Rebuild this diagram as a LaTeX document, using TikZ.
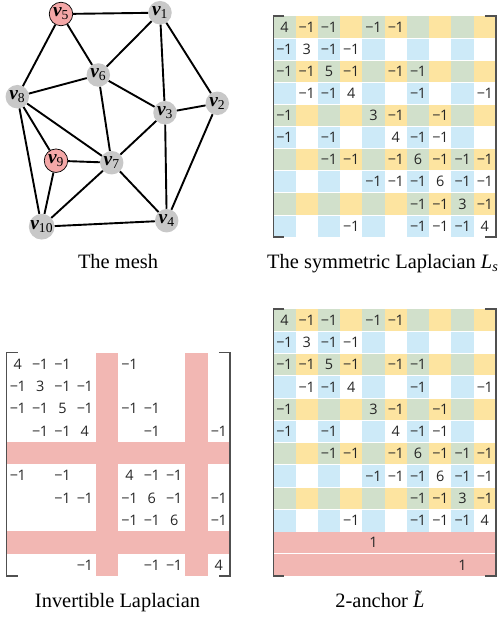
\documentclass[tikz,border=0pt]{standalone}
\usepackage{fontspec}
\setmainfont{Liberation Serif}
\newfontfamily\numfont{Open Sans}
\definecolor{cyel}{HTML}{FDE4A0}
\definecolor{cblue}{HTML}{CDEAF8}
\definecolor{cgreen}{HTML}{D1E0CB}
\definecolor{cpink}{HTML}{F2B7B3}
\definecolor{npink}{HTML}{F4A7A7}
\definecolor{ngray}{HTML}{C8C8C8}
\definecolor{brk}{HTML}{505050}
\def\m{\char"2212\kern-0.03em 1}
\def\Lentries{1/1/4, 1/2/\m, 1/3/\m, 1/5/\m, 1/6/\m,
 2/1/\m, 2/2/3, 2/3/\m, 2/4/\m,
 3/1/\m, 3/2/\m, 3/3/5, 3/4/\m, 3/6/\m, 3/7/\m,
 4/2/\m, 4/3/\m, 4/4/4, 4/7/\m, 4/10/\m,
 5/1/\m, 5/5/3, 5/6/\m, 5/8/\m,
 6/1/\m, 6/3/\m, 6/6/4, 6/7/\m, 6/8/\m,
 7/3/\m, 7/4/\m, 7/6/\m, 7/7/6, 7/8/\m, 7/9/\m, 7/10/\m,
 8/5/\m, 8/6/\m, 8/7/\m, 8/8/6, 8/9/\m, 8/10/\m,
 9/7/\m, 9/8/\m, 9/9/3, 9/10/\m,
 10/4/\m, 10/7/\m, 10/8/\m, 10/9/\m, 10/10/4}
\newcommand\mybrackets[2]{%
  \draw[bracket] (0.5,0) -- (0,0) -- (0,#2) -- (0.5,#2);
  \draw[bracket] (#1-0.5,0) -- (#1,0) -- (#1,#2) -- (#1-0.5,#2);}
\newcommand\stripes{%
  \foreach \r in {1,3,5,7,9} \fill[cyel] (0,\r-1) rectangle (10,\r);
  \foreach \c in {1,3,5,7,9} \fill[cblue] (\c-1,0) rectangle (\c,10);
  \foreach \r in {1,3,5,7,9} \foreach \c in {1,3,5,7,9} \fill[cgreen] (\c-1,\r-1) rectangle (\c,\r);
  \foreach \r in {1,...,9} \draw[white,line width=0.8bp] (0,\r) -- (10,\r);}
\newcommand\vl[1]{{\bfseries\itshape v}\textsubscript{#1}}
\begin{document}
\begin{tikzpicture}[x=1bp,y=-1bp,
  vtx/.style={circle,fill=ngray,minimum size=23.5bp,inner sep=0pt,
    font=\fontsize{19.5}{19.5}\selectfont},
  anchorv/.style={vtx,fill=npink,draw=black,line width=0.7bp},
  edge/.style={line width=1.9bp,black},
  num/.style={font=\numfont\fontsize{14.5}{14.5}\selectfont,text=black!85,inner sep=0pt},
  bracket/.style={line width=1.4bp,brk},
  captxt/.style={font=\fontsize{20.5}{20.5}\selectfont,inner sep=0pt}]
\useasboundingbox (0,0) rectangle (503,619);

% ---------- mesh ----------
\node[vtx] (v1) at (160,12.7) {\vl{1}};
\node[vtx] (v2) at (217.3,103.3) {\vl{2}};
\node[vtx] (v3) at (165,112.7) {\vl{3}};
\node[vtx] (v4) at (166.7,220.7) {\vl{4}};
\node[anchorv] (v5) at (61,14) {\vl{5}};
\node[vtx] (v6) at (98.3,75) {\vl{6}};
\node[vtx] (v7) at (111.7,162.7) {\vl{7}};
\node[vtx] (v8) at (17.3,96.7) {\vl{8}};
\node[anchorv] (v9) at (56,160.7) {\vl{9}};
\node[vtx] (v10) at (41.7,226.7) {\vl{10}};
\foreach \a/\b in {v5/v1,v5/v6,v5/v8,v1/v6,v1/v3,v1/v2,v6/v8,v6/v3,v6/v7,
  v8/v7,v8/v9,v8/v10,v3/v2,v3/v7,v3/v4,v2/v4,v9/v7,v9/v10,v7/v10,v7/v4,v10/v4}
  \draw[edge] (\a) -- (\b);
\node[captxt] (capmesh) at (118,262) {The mesh};

% ---------- symmetric Laplacian ----------
\begin{scope}[shift={(273.3,16)},x=22.27bp,y=-22.1bp]
  \stripes
  \foreach \r/\c/\v in \Lentries \node[num] (S-\r-\c) at (\c-0.5,\r-0.5) {\v};
  \mybrackets{10}{10}
\end{scope}
\node[captxt,anchor=base west] (capsym) at (267,268.3) {The symmetric Laplacian \textit{L}\textsubscript{\textit{s}}};

% ---------- invertible Laplacian ----------
\begin{scope}[shift={(6.7,352.7)},x=22.33bp,y=-22.33bp]
  \foreach \k in {5,9} {
    \fill[cpink] (\k-1,0) rectangle (\k,10);
    \fill[cpink] (0,\k-1) rectangle (10,\k);}
  \foreach \r/\c/\v in \Lentries {
    \pgfmathtruncatemacro\skipit{(\r==5||\r==9||\c==5||\c==9)?1:0}
    \ifnum\skipit=0 \node[num] (I-\r-\c) at (\c-0.5,\r-0.5) {\v};\fi}
  \mybrackets{10}{10}
\end{scope}
\node[captxt,anchor=base] (capinv) at (117.5,607.7) {Invertible Laplacian};

% ---------- 2-anchor ----------
\begin{scope}[shift={(273.3,309)},x=22.27bp,y=-22.25bp]
  \stripes
  \fill[cpink] (0,10.03) rectangle (10,10.97);
  \fill[cpink] (0,11.03) rectangle (10,12);
  \foreach \r/\c/\v in \Lentries \node[num] (A-\r-\c) at (\c-0.5,\r-0.5) {\v};
  \node[num] (A-11-5) at (4.5,10.5) {1};
  \node[num] (A-12-9) at (8.5,11.5) {1};
  \mybrackets{10}{12}
\end{scope}
\node[captxt,anchor=base] (capanc) at (384,607.7) {2-anchor \textit{\~{L}}};
\end{tikzpicture}
\end{document}
